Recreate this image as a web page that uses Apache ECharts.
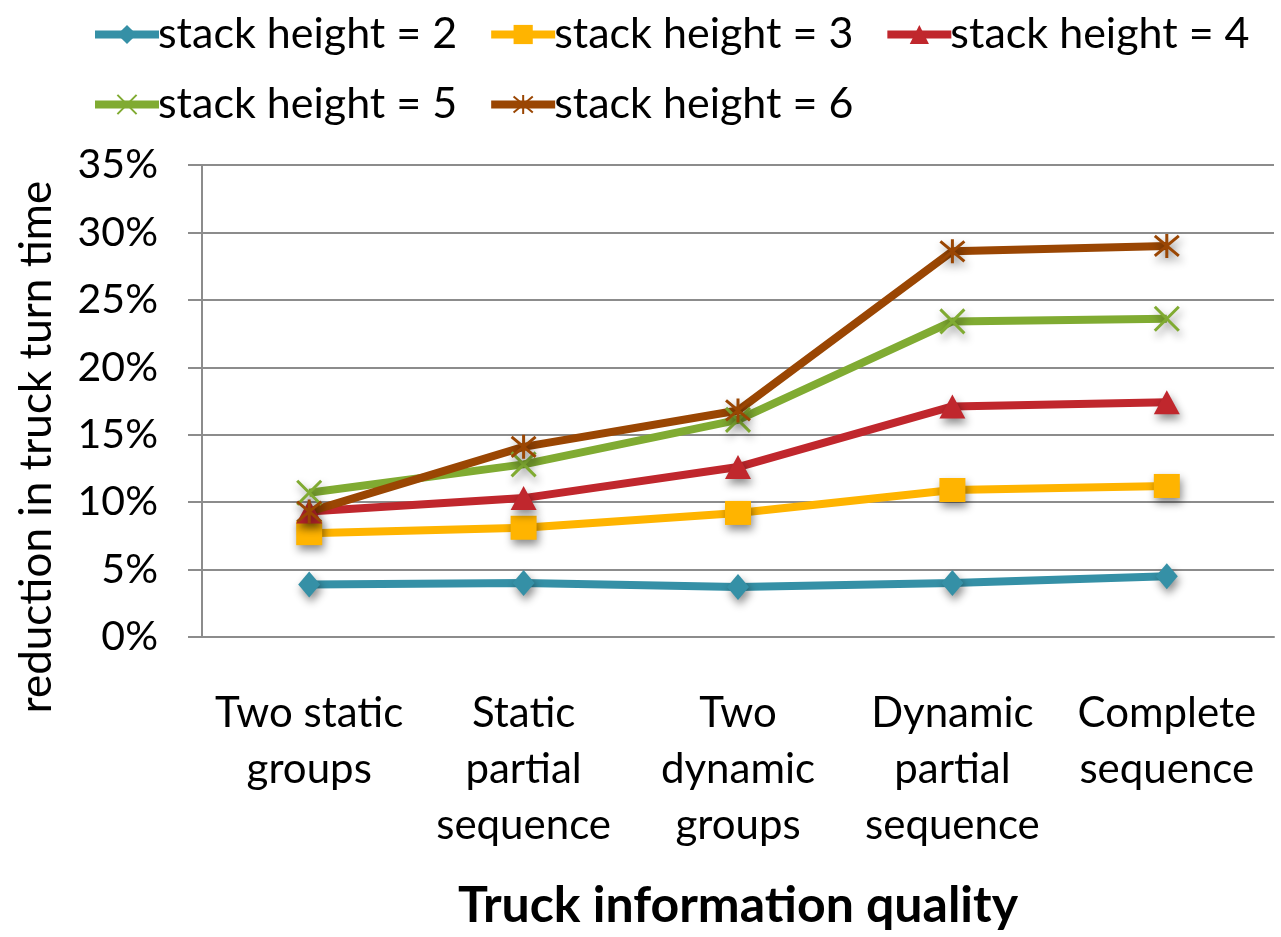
<!DOCTYPE html>
<html>
<head>
<meta charset="utf-8">
<script src="https://cdn.jsdelivr.net/npm/echarts@6/dist/echarts.min.js"></script>
<style>
  html, body { margin: 0; padding: 0; background: #fff; }
  #chart { width: 1281px; height: 937px; }
</style>
</head>
<body>
<div id="chart"></div>
<script>
// Categories of truck information quality
const categories = [
  'Two static\ngroups',
  'Static\npartial\nsequence',
  'Two\ndynamic\ngroups',
  'Dynamic\npartial\nsequence',
  'Complete\nsequence'
];

// Reduction in truck turn time (fraction) per stack height
const stack2 = [0.039, 0.040, 0.037, 0.040, 0.045];
const stack3 = [0.077, 0.081, 0.092, 0.109, 0.112];
const stack4 = [0.093, 0.103, 0.126, 0.171, 0.174];
const stack5 = [0.107, 0.128, 0.161, 0.234, 0.236];
const stack6 = [0.093, 0.141, 0.168, 0.286, 0.290];

const seriesNames = [
  'stack height = 2', 'stack height = 3', 'stack height = 4',
  'stack height = 5', 'stack height = 6'
];

const FONT = 'Lato, "Open Sans", sans-serif';

const xSymbol = 'path://M0,0 L10,10 M10,0 L0,10';
const starSymbol = 'path://M0,0 L10,10 M10,0 L0,10 M5,-1 L5,11';

const shadow = {
  shadowBlur: 8,
  shadowColor: 'rgba(0,0,0,0.45)',
  shadowOffsetX: 2,
  shadowOffsetY: 5
};

function makeSeries(name, data, color, symbol, size, stroked) {
  return {
    name: name,
    type: 'line',
    data: data,
    symbol: symbol,
    symbolSize: size,
    showAllSymbol: true,
    lineStyle: { color: color, width: 8 },
    itemStyle: Object.assign({
      color: stroked ? 'rgba(0,0,0,0)' : color,
      borderColor: color,
      borderWidth: stroked ? 3 : 0
    }, shadow),
    emphasis: { disabled: true }
  };
}

const chart = echarts.init(document.getElementById('chart'), null, { renderer: 'canvas' });

const legendCommon = {
  orient: 'horizontal',
  itemWidth: 64,
  itemHeight: 24,
  itemGap: 30,
  lineStyle: { width: 8 },
  itemStyle: { shadowBlur: 0, shadowOffsetX: 0, shadowOffsetY: 0 },
  textStyle: { fontFamily: FONT, fontSize: 43, color: '#000', padding: [0, 0, 0, -6] }
};

chart.setOption({
  backgroundColor: '#fff',
  animation: false,
  textStyle: { fontFamily: FONT },
  legend: [
    Object.assign({}, legendCommon, {
      left: 86, top: 8,
      data: seriesNames.slice(0, 3)
    }),
    Object.assign({}, legendCommon, {
      left: 86, top: 78,
      data: seriesNames.slice(3)
    })
  ],
  grid: {
    left: 202, right: 7, top: 165, bottom: 300,
    containLabel: false,
    outerBoundsMode: 'none'
  },
  xAxis: {
    type: 'category',
    data: categories,
    boundaryGap: true,
    axisLine: { show: true, lineStyle: { color: '#8c8c8c', width: 2 } },
    axisTick: { show: false },
    axisLabel: {
      interval: 0,
      margin: 48,
      fontFamily: FONT,
      fontSize: 42,
      color: '#000',
      lineHeight: 56
    },
    name: 'Truck information quality',
    nameLocation: 'middle',
    nameGap: 244,
    nameTextStyle: { fontFamily: FONT, fontSize: 50, fontWeight: 'bold', color: '#000' }
  },
  yAxis: {
    type: 'value',
    min: 0,
    max: 0.35,
    interval: 0.05,
    axisLine: { show: true, lineStyle: { color: '#8c8c8c', width: 2 } },
    axisTick: { show: true, length: 14, lineStyle: { color: '#8c8c8c', width: 2 } },
    splitLine: { show: true, lineStyle: { color: '#8c8c8c', width: 2 } },
    axisLabel: {
      margin: 44,
      fontFamily: FONT,
      fontSize: 41,
      color: '#000',
      formatter: function (v) { return Math.round(v * 100) + '%'; }
    }
  },
  graphic: [{
    type: 'text',
    x: 37,
    y: 447,
    rotation: Math.PI / 2,
    style: {
      text: 'reduction in truck turn time',
      fontFamily: FONT,
      fontSize: 44,
      fill: '#000',
      align: 'center',
      verticalAlign: 'middle'
    }
  }],
  series: [
    makeSeries(seriesNames[0], stack2, '#3590a6', 'diamond', [22, 26], false),
    makeSeries(seriesNames[1], stack3, '#ffb400', 'rect', [26, 24], false),
    makeSeries(seriesNames[2], stack4, '#c0272d', 'triangle', [26, 24], false),
    makeSeries(seriesNames[3], stack5, '#80ab32', xSymbol, [24, 24], true),
    makeSeries(seriesNames[4], stack6, '#9a4603', starSymbol, [24, 24], true)
  ]
});
</script>
</body>
</html>
